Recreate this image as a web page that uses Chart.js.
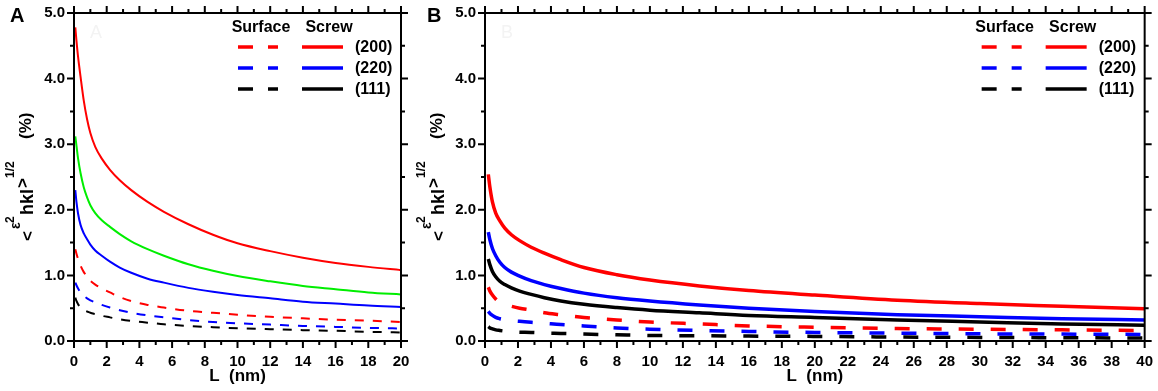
<!DOCTYPE html>
<html lang="en">
<head>
  <meta charset="UTF-8" />
  <title>Microstrain vs L</title>
  <script src="https://cdn.jsdelivr.net/npm/chart.js"></script>
  <style>
    body {
      margin: 0;
      background: #fff;
    }
    #wrap {
      position: relative;
      width: 1158px;
      height: 391px;
    }
    canvas {
      position: absolute;
      top: 0;
    }
    #chart-a { left: 0; }
    #chart-b { left: 400px; }
  </style>
</head>
<body>
  <div id="wrap">
    <canvas id="chart-a" width="440" height="391"></canvas>
    <canvas id="chart-b" width="758" height="391"></canvas>
  </div>

  <script>
    // panel A (L up to 20 nm)
    const leftL = [0.08, 0.15, 0.25, 0.4, 0.6, 0.8, 1.0, 1.3, 1.7, 2.2, 2.8, 3.5, 4.5, 5.5, 7, 8.5, 10, 12, 14, 16, 18, 20];
    const aScrew200 = [4.78, 4.58, 4.33, 4.03, 3.66, 3.38, 3.17, 2.96, 2.78, 2.61, 2.45, 2.30, 2.12, 1.97, 1.78, 1.62, 1.49, 1.37, 1.27, 1.19, 1.13, 1.08];
    const aScrewGreen = [3.12, 2.98, 2.78, 2.56, 2.34, 2.19, 2.07, 1.95, 1.84, 1.74, 1.63, 1.52, 1.40, 1.30, 1.17, 1.07, 0.99, 0.91, 0.84, 0.79, 0.74, 0.71];
    const aScrew220 = [2.30, 2.12, 1.94, 1.77, 1.64, 1.55, 1.47, 1.38, 1.30, 1.21, 1.12, 1.04, 0.95, 0.89, 0.81, 0.75, 0.70, 0.65, 0.60, 0.57, 0.54, 0.52];
    const aSurf200 = [1.40, 1.33, 1.25, 1.15, 1.05, 0.98, 0.92, 0.86, 0.80, 0.74, 0.67, 0.61, 0.55, 0.51, 0.46, 0.43, 0.40, 0.37, 0.345, 0.325, 0.31, 0.29];
    const aSurf220 = [0.89, 0.85, 0.80, 0.74, 0.69, 0.65, 0.62, 0.59, 0.55, 0.51, 0.47, 0.43, 0.39, 0.36, 0.32, 0.29, 0.27, 0.25, 0.23, 0.215, 0.20, 0.19];
    const aSurf111 = [0.66, 0.61, 0.56, 0.51, 0.47, 0.45, 0.43, 0.41, 0.385, 0.36, 0.33, 0.305, 0.28, 0.255, 0.23, 0.21, 0.195, 0.18, 0.165, 0.155, 0.14, 0.13];

    // panel B (L up to 40 nm)
    const rightL = [0.2, 0.3, 0.45, 0.65, 0.9, 1.2, 1.6, 2.1, 2.8, 3.6, 4.6, 6, 8, 10, 13, 16, 20, 25, 30, 35, 40];
    const bScrew200 = [2.54, 2.34, 2.12, 1.95, 1.83, 1.72, 1.62, 1.53, 1.43, 1.34, 1.24, 1.12, 1.01, 0.93, 0.84, 0.77, 0.70, 0.62, 0.57, 0.53, 0.49];
    const bScrew220 = [1.66, 1.54, 1.41, 1.30, 1.20, 1.12, 1.05, 0.99, 0.92, 0.86, 0.80, 0.73, 0.66, 0.61, 0.55, 0.50, 0.45, 0.40, 0.37, 0.34, 0.32];
    const bScrew111 = [1.25, 1.16, 1.06, 0.98, 0.91, 0.86, 0.81, 0.76, 0.71, 0.66, 0.61, 0.56, 0.51, 0.47, 0.43, 0.39, 0.36, 0.32, 0.29, 0.26, 0.24];
    const bSurf200 = [0.82, 0.76, 0.70, 0.64, 0.59, 0.56, 0.53, 0.50, 0.47, 0.43, 0.40, 0.36, 0.32, 0.29, 0.26, 0.23, 0.21, 0.19, 0.18, 0.17, 0.16];
    const bSurf220 = [0.45, 0.42, 0.39, 0.36, 0.34, 0.325, 0.31, 0.30, 0.285, 0.27, 0.25, 0.23, 0.20, 0.18, 0.16, 0.145, 0.13, 0.12, 0.11, 0.105, 0.10];
    const bSurf111 = [0.22, 0.20, 0.185, 0.17, 0.16, 0.15, 0.14, 0.135, 0.13, 0.12, 0.115, 0.105, 0.095, 0.085, 0.08, 0.075, 0.07, 0.06, 0.055, 0.05, 0.045];

    const legendLabels = ['(200)', '(220)', '(111)'];
    const legendColors = ['#ff0000', '#0000ff', '#000000'];
    const yTickLabels = ['0.0', '1.0', '2.0', '3.0', '4.0', '5.0'];

    const FONT = "'Liberation Sans', Arial, sans-serif";
    Chart.defaults.font.family = FONT;
    Chart.defaults.color = '#000';

    function pts(xs, ys) {
      return xs.map((x, i) => ({ x: x, y: ys[i] }));
    }

    function series(xs, ys, color, width, dash) {
      return {
        data: pts(xs, ys),
        borderColor: color,
        borderWidth: width,
        borderDash: dash || [],
        pointRadius: 0,
        fill: false,
        cubicInterpolationMode: 'monotone'
      };
    }

    // frame, minor/major ticks, y title, legend, panel letters
    const deco = {
      id: 'deco',
      afterDraw(chart, args, o) {
        const ctx = chart.ctx;
        const a = chart.chartArea;
        const xs = chart.scales.x, ys = chart.scales.y;
        ctx.save();
        ctx.strokeStyle = '#000';
        ctx.lineWidth = 2;
        ctx.strokeRect(a.left, a.top, a.right - a.left, a.bottom - a.top);

        ctx.beginPath();
        for (let v = xs.min; v <= xs.max; v += 1) {
          const px = xs.getPixelForValue(v);
          const len = v % 2 === 0 ? 7 : 4;
          ctx.moveTo(px, a.bottom); ctx.lineTo(px, a.bottom + len);
          ctx.moveTo(px, a.top); ctx.lineTo(px, a.top - len);
        }
        for (let v = ys.min; v <= ys.max + 0.001; v += 0.5) {
          const py = ys.getPixelForValue(v);
          const len = Math.abs(v - Math.round(v)) < 0.01 ? 7 : 4;
          ctx.moveTo(a.left, py); ctx.lineTo(a.left - len, py);
          ctx.moveTo(a.right, py); ctx.lineTo(a.right + len, py);
        }
        ctx.stroke();

        // panel letter + faint watermark
        ctx.fillStyle = '#000';
        ctx.font = 'bold 20px ' + FONT;
        ctx.textBaseline = 'alphabetic';
        ctx.textAlign = 'left';
        ctx.fillText(o.letter, o.letterX, 22);
        ctx.fillStyle = '#f3f3f3';
        ctx.font = '18px ' + FONT;
        ctx.fillText(o.letter, a.left + 16, a.top + 25);

        // rotated y title: <ε²hkl>^1/2 (%)
        ctx.fillStyle = '#000';
        ctx.translate(a.left - 41, (a.top + a.bottom) / 2 + 64);
        ctx.rotate(-Math.PI / 2);
        const parts = [
          ['<', 17, 0, 0],
          ['\u03b5', 14, 12, -13],
          ['2', 12, 18, -19],
          ['hkl', 18, 26, 0],
          ['>', 17, 53, -5],
          ['1/2', 12, 63, -19],
          ['(%)', 17, 102, -2]
        ];
        parts.forEach(p => {
          ctx.font = 'bold ' + p[1] + 'px ' + FONT;
          ctx.fillText(p[0], p[2], p[3]);
        });
        ctx.setTransform(1, 0, 0, 1, 0, 0);

        // legend
        const r = a.right;
        ctx.font = 'bold 16px ' + FONT;
        ctx.textBaseline = 'middle';
        ctx.textAlign = 'center';
        ctx.fillText('Surface', r - 140, 28);
        ctx.fillText('Screw', r - 72, 28);
        ctx.textAlign = 'left';
        ctx.lineWidth = 3.5;
        legendLabels.forEach((lab, i) => {
          const y = 47 + i * 21;
          ctx.strokeStyle = legendColors[i];
          ctx.beginPath();
          ctx.moveTo(r - 163, y); ctx.lineTo(r - 148, y);
          ctx.moveTo(r - 133, y); ctx.lineTo(r - 123, y);
          ctx.moveTo(r - 99, y); ctx.lineTo(r - 58, y);
          ctx.stroke();
          ctx.fillStyle = '#000';
          ctx.fillText(lab, r - 46, y + 1);
        });
        ctx.restore();
      }
    };

    function makeChart(id, datasets, xMax, padRight, yWidth, letter, letterX) {
      return new Chart(document.getElementById(id), {
        type: 'line',
        data: { datasets: datasets },
        plugins: [deco],
        options: {
          responsive: false,
          animation: false,
          layout: { padding: { top: 13, right: padRight, left: 0, bottom: 0 } },
          plugins: {
            legend: { display: false },
            tooltip: { enabled: false },
            deco: { letter: letter, letterX: letterX }
          },
          scales: {
            x: {
              type: 'linear',
              min: 0,
              max: xMax,
              ticks: { stepSize: 2, autoSkip: false, maxRotation: 0, padding: 5, font: { size: 15, weight: 'bold' } },
              grid: { drawOnChartArea: false, tickLength: 7, tickColor: 'rgba(0,0,0,0)' },
              border: { display: false },
              title: { display: true, text: 'L  (nm)', font: { size: 17, weight: 'bold' }, padding: { top: 0, bottom: 4 } },
              afterFit: s => { s.height = 50; }
            },
            y: {
              min: 0,
              max: 5,
              ticks: { stepSize: 1, padding: 2, font: { size: 15, weight: 'bold' }, callback: v => yTickLabels[v] },
              grid: { drawOnChartArea: false, tickLength: 7, tickColor: 'rgba(0,0,0,0)' },
              border: { display: false },
              afterFit: s => { s.width = yWidth; }
            }
          }
        }
      });
    }

    makeChart('chart-a', [
      series(leftL, aScrew200, '#ff0000', 2),
      series(leftL, aScrewGreen, '#00ee00', 2),
      series(leftL, aScrew220, '#0000ff', 2),
      series(leftL, aSurf200, '#ff0000', 2, [9, 9]),
      series(leftL, aSurf220, '#0000ff', 2, [9, 9]),
      series(leftL, aSurf111, '#000000', 2, [9, 9])
    ], 20, 39, 74, 'A', 10);

    makeChart('chart-b', [
      series(rightL, bScrew200, '#ff0000', 3.5),
      series(rightL, bScrew220, '#0000ff', 3.5),
      series(rightL, bScrew111, '#000000', 3.5),
      series(rightL, bSurf200, '#ff0000', 3.5, [15, 17]),
      series(rightL, bSurf220, '#0000ff', 3.5, [15, 17]),
      series(rightL, bSurf111, '#000000', 3.5, [15, 17])
    ], 40, 13, 85, 'B', 27);
  </script>
</body>
</html>
